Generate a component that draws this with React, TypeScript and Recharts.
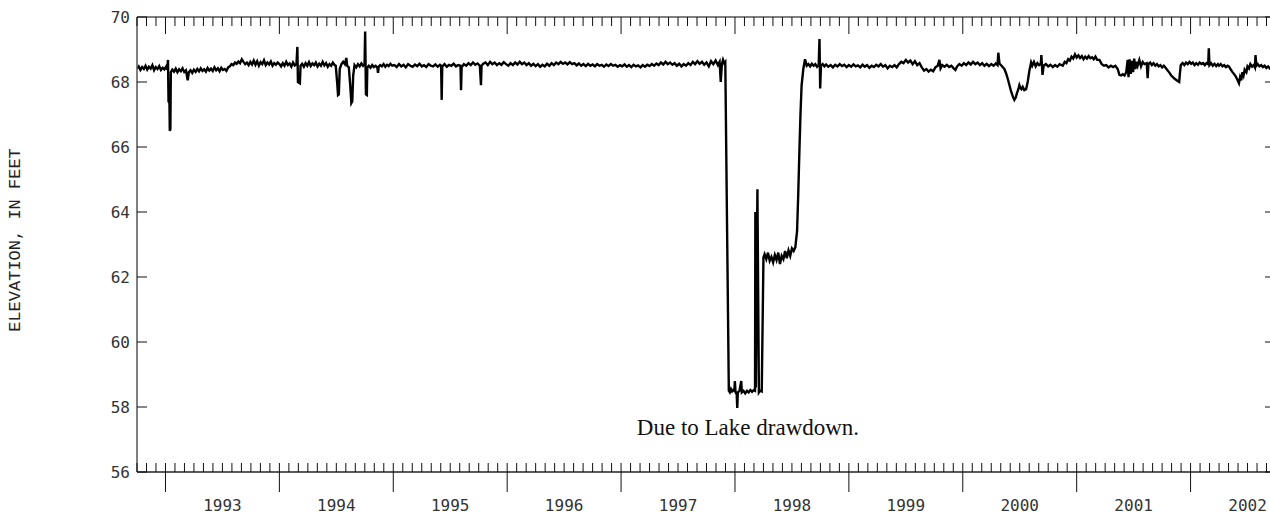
import React from "react";
import { LineChart, Line, XAxis, YAxis } from "recharts";

// Lake elevation, feet, by decimal year (water years 1993-2002)
const WY1993: [number, number][] = [
  [1992.75, 68.42], [1992.765, 68.48], [1992.78, 68.37], [1992.795, 68.46], [1992.81, 68.4],
  [1992.825, 68.5], [1992.84, 68.38], [1992.855, 68.47], [1992.87, 68.41], [1992.885, 68.52],
  [1992.9, 68.36], [1992.915, 68.46], [1992.93, 68.4], [1992.945, 68.49], [1992.96, 68.37],
  [1992.975, 68.44], [1992.99, 68.39], [1993.005, 68.47], [1993.015, 68.38], [1993.022, 68.68],
  [1993.027, 67.4], [1993.035, 67.35], [1993.038, 66.5], [1993.043, 66.55], [1993.047, 68.3],
  [1993.06, 68.38], [1993.075, 68.32], [1993.09, 68.41], [1993.105, 68.3], [1993.12, 68.39],
  [1993.135, 68.33], [1993.15, 68.42], [1993.165, 68.31], [1993.18, 68.36], [1993.195, 68.05],
  [1993.205, 68.3], [1993.22, 68.36], [1993.235, 68.28], [1993.25, 68.38], [1993.265, 68.31],
  [1993.28, 68.4], [1993.295, 68.33], [1993.31, 68.42], [1993.325, 68.34], [1993.34, 68.39],
  [1993.355, 68.32], [1993.37, 68.43], [1993.385, 68.35], [1993.4, 68.41], [1993.415, 68.34],
  [1993.43, 68.45], [1993.445, 68.36], [1993.46, 68.42], [1993.475, 68.33], [1993.49, 68.44],
  [1993.505, 68.37], [1993.52, 68.4], [1993.535, 68.34], [1993.55, 68.45], [1993.565, 68.48],
  [1993.58, 68.55], [1993.595, 68.52], [1993.61, 68.6], [1993.625, 68.56], [1993.64, 68.63],
  [1993.655, 68.58], [1993.67, 68.7], [1993.685, 68.62], [1993.7, 68.55], [1993.715, 68.6],
  [1993.73, 68.52], [1993.745, 68.62], [1993.76, 68.54], [1993.775, 68.66], [1993.79, 68.53],
  [1993.805, 68.64], [1993.82, 68.5], [1993.835, 68.61], [1993.85, 68.55], [1993.865, 68.67],
  [1993.88, 68.52], [1993.895, 68.6], [1993.91, 68.54], [1993.925, 68.63], [1993.94, 68.5],
  [1993.955, 68.58], [1993.97, 68.53], [1993.985, 68.6], [1994.0, 68.55],
];

const WY1994: [number, number][] = [
  [1994.015, 68.48], [1994.03, 68.58], [1994.045, 68.5], [1994.06, 68.62], [1994.075, 68.52],
  [1994.09, 68.57], [1994.105, 68.47], [1994.12, 68.6], [1994.135, 68.51], [1994.15, 68.55],
  [1994.158, 69.08], [1994.163, 68.0], [1994.18, 67.96], [1994.186, 68.5], [1994.2, 68.56],
  [1994.215, 68.47], [1994.23, 68.58], [1994.245, 68.5], [1994.26, 68.61], [1994.275, 68.49],
  [1994.29, 68.57], [1994.305, 68.52], [1994.32, 68.6], [1994.335, 68.48], [1994.35, 68.56],
  [1994.365, 68.5], [1994.38, 68.62], [1994.395, 68.51], [1994.41, 68.58], [1994.425, 68.47],
  [1994.44, 68.55], [1994.455, 68.5], [1994.47, 68.6], [1994.485, 68.52], [1994.495, 68.5],
  [1994.508, 67.95], [1994.515, 67.6], [1994.522, 67.62], [1994.53, 68.4], [1994.545, 68.55],
  [1994.56, 68.62], [1994.575, 68.55], [1994.588, 68.74], [1994.595, 68.5], [1994.61, 68.45],
  [1994.622, 67.9], [1994.632, 67.35], [1994.64, 67.4], [1994.648, 68.2], [1994.66, 68.52],
  [1994.675, 68.45], [1994.69, 68.55], [1994.705, 68.48], [1994.72, 68.57], [1994.735, 68.5],
  [1994.748, 68.55], [1994.753, 69.55], [1994.76, 67.62], [1994.768, 67.6], [1994.772, 68.45],
  [1994.785, 68.5], [1994.8, 68.44], [1994.815, 68.52], [1994.83, 68.46], [1994.845, 68.5],
  [1994.86, 68.45], [1994.866, 68.28], [1994.872, 68.47], [1994.885, 68.52], [1994.9, 68.48],
  [1994.915, 68.55], [1994.93, 68.47], [1994.945, 68.53], [1994.96, 68.49], [1994.975, 68.56],
  [1994.99, 68.5],
];

const WY1995: [number, number][] = [
  [1995.01, 68.52], [1995.03, 68.46], [1995.05, 68.55], [1995.07, 68.48], [1995.09, 68.53],
  [1995.11, 68.45], [1995.13, 68.55], [1995.15, 68.5], [1995.17, 68.47], [1995.19, 68.54],
  [1995.21, 68.49], [1995.23, 68.56], [1995.25, 68.48], [1995.27, 68.52], [1995.29, 68.46],
  [1995.31, 68.55], [1995.33, 68.5], [1995.35, 68.48], [1995.37, 68.54], [1995.39, 68.47],
  [1995.41, 68.53], [1995.42, 68.5], [1995.425, 67.45], [1995.43, 68.48], [1995.45, 68.55],
  [1995.47, 68.47], [1995.49, 68.53], [1995.51, 68.5], [1995.53, 68.56], [1995.55, 68.48],
  [1995.57, 68.52], [1995.59, 68.5], [1995.595, 67.75], [1995.6, 68.45], [1995.62, 68.55],
  [1995.64, 68.5], [1995.66, 68.58], [1995.68, 68.52], [1995.7, 68.6], [1995.72, 68.53],
  [1995.74, 68.57], [1995.76, 68.5], [1995.77, 67.9], [1995.775, 68.5], [1995.79, 68.56],
  [1995.81, 68.6], [1995.83, 68.52], [1995.85, 68.62], [1995.87, 68.55], [1995.89, 68.6],
  [1995.91, 68.52], [1995.93, 68.58], [1995.95, 68.53], [1995.97, 68.61], [1995.99, 68.55],
];

const WY1996: [number, number][] = [
  [1996.01, 68.5], [1996.03, 68.58], [1996.05, 68.52], [1996.07, 68.6], [1996.09, 68.54],
  [1996.11, 68.62], [1996.13, 68.55], [1996.15, 68.6], [1996.17, 68.52], [1996.19, 68.58],
  [1996.21, 68.5], [1996.23, 68.56], [1996.25, 68.49], [1996.27, 68.55], [1996.29, 68.47],
  [1996.31, 68.53], [1996.33, 68.48], [1996.35, 68.56], [1996.37, 68.5], [1996.39, 68.58],
  [1996.41, 68.52], [1996.43, 68.6], [1996.45, 68.55], [1996.47, 68.62], [1996.49, 68.56],
  [1996.51, 68.6], [1996.53, 68.54], [1996.55, 68.61], [1996.57, 68.55], [1996.59, 68.58],
  [1996.61, 68.51], [1996.63, 68.57], [1996.65, 68.5], [1996.67, 68.55], [1996.69, 68.49],
  [1996.71, 68.56], [1996.73, 68.5], [1996.75, 68.54], [1996.77, 68.48], [1996.79, 68.55],
  [1996.81, 68.5], [1996.83, 68.53], [1996.85, 68.47], [1996.87, 68.54], [1996.89, 68.49],
  [1996.91, 68.55], [1996.93, 68.5], [1996.95, 68.53], [1996.97, 68.47], [1996.99, 68.52],
];

const WY1997: [number, number][] = [
  [1997.01, 68.48], [1997.03, 68.54], [1997.05, 68.47], [1997.07, 68.52], [1997.09, 68.46],
  [1997.11, 68.53], [1997.13, 68.48], [1997.15, 68.51], [1997.17, 68.45], [1997.19, 68.52],
  [1997.21, 68.47], [1997.23, 68.53], [1997.25, 68.49], [1997.27, 68.55], [1997.29, 68.5],
  [1997.31, 68.57], [1997.33, 68.52], [1997.35, 68.6], [1997.37, 68.54], [1997.39, 68.62],
  [1997.41, 68.55], [1997.43, 68.6], [1997.45, 68.53], [1997.47, 68.58], [1997.49, 68.5],
  [1997.51, 68.56], [1997.53, 68.48], [1997.55, 68.55], [1997.57, 68.5], [1997.59, 68.58],
  [1997.61, 68.52], [1997.63, 68.62], [1997.65, 68.55], [1997.67, 68.64], [1997.69, 68.56],
  [1997.71, 68.62], [1997.73, 68.53], [1997.75, 68.6], [1997.77, 68.48], [1997.79, 68.64],
  [1997.81, 68.55], [1997.83, 68.66], [1997.85, 68.52], [1997.865, 68.62], [1997.875, 68.0],
  [1997.885, 68.55], [1997.895, 68.68], [1997.905, 68.58], [1997.915, 68.62],
];

// Drawdown and refill
const WY1998: [number, number][] = [
  [1997.946, 58.5], [1997.955, 58.45], [1997.965, 58.55], [1997.975, 58.48], [1997.985, 58.52],
  [1997.995, 58.5], [1997.999, 58.8], [1998.005, 58.45], [1998.015, 58.4], [1998.02, 57.97],
  [1998.025, 58.45], [1998.04, 58.5], [1998.055, 58.8], [1998.06, 58.45], [1998.075, 58.5],
  [1998.09, 58.42], [1998.105, 58.5], [1998.12, 58.45], [1998.135, 58.52], [1998.15, 58.47],
  [1998.165, 58.52], [1998.176, 58.5], [1998.179, 64.0], [1998.183, 58.6], [1998.197, 64.7],
  [1998.21, 58.45], [1998.22, 58.5], [1998.235, 58.48], [1998.25, 62.6], [1998.26, 62.7],
  [1998.275, 62.55], [1998.29, 62.75], [1998.305, 62.5], [1998.32, 62.62], [1998.335, 62.45],
  [1998.35, 62.68], [1998.365, 62.52], [1998.38, 62.75], [1998.395, 62.4], [1998.41, 62.65],
  [1998.425, 62.55], [1998.44, 62.8], [1998.455, 62.58], [1998.47, 62.82], [1998.485, 62.65],
  [1998.5, 62.88], [1998.515, 62.8], [1998.53, 62.92], [1998.545, 63.4], [1998.555, 64.5],
  [1998.565, 65.8], [1998.575, 67.0], [1998.585, 67.9], [1998.6, 68.4], [1998.615, 68.7],
  [1998.63, 68.5], [1998.645, 68.55], [1998.66, 68.48], [1998.675, 68.56], [1998.69, 68.5],
  [1998.705, 68.55], [1998.72, 68.47], [1998.735, 68.53], [1998.742, 69.32], [1998.748, 67.8],
  [1998.755, 68.5], [1998.77, 68.55],
];

const WY1999: [number, number][] = [
  [1998.785, 68.48], [1998.8, 68.54], [1998.82, 68.47], [1998.84, 68.52], [1998.86, 68.45],
  [1998.88, 68.53], [1998.9, 68.48], [1998.92, 68.55], [1998.94, 68.49], [1998.96, 68.53],
  [1998.98, 68.46], [1999.0, 68.52], [1999.02, 68.47], [1999.04, 68.54], [1999.06, 68.48],
  [1999.08, 68.51], [1999.1, 68.45], [1999.12, 68.53], [1999.14, 68.47], [1999.16, 68.52],
  [1999.18, 68.44], [1999.2, 68.5], [1999.22, 68.46], [1999.24, 68.53], [1999.26, 68.48],
  [1999.28, 68.55], [1999.3, 68.47], [1999.32, 68.52], [1999.34, 68.42], [1999.36, 68.5],
  [1999.38, 68.46], [1999.4, 68.52], [1999.42, 68.45], [1999.44, 68.55], [1999.46, 68.62],
  [1999.48, 68.58], [1999.5, 68.68], [1999.52, 68.6], [1999.54, 68.66], [1999.56, 68.55],
  [1999.58, 68.64], [1999.6, 68.52], [1999.62, 68.58], [1999.64, 68.45], [1999.66, 68.35],
  [1999.68, 68.4], [1999.7, 68.32], [1999.72, 68.38], [1999.74, 68.33], [1999.76, 68.45],
  [1999.78, 68.5], [1999.795, 68.68], [1999.805, 68.42], [1999.82, 68.52], [1999.84, 68.47],
  [1999.86, 68.53], [1999.88, 68.46], [1999.9, 68.5], [1999.92, 68.42], [1999.935, 68.37],
  [1999.95, 68.48], [1999.97, 68.55], [1999.99, 68.5],
];

const WY2000: [number, number][] = [
  [2000.01, 68.58], [2000.03, 68.52], [2000.05, 68.6], [2000.07, 68.54], [2000.09, 68.62],
  [2000.11, 68.55], [2000.13, 68.6], [2000.15, 68.52], [2000.17, 68.58], [2000.19, 68.5],
  [2000.21, 68.56], [2000.23, 68.49], [2000.25, 68.55], [2000.27, 68.5], [2000.29, 68.57],
  [2000.305, 68.52], [2000.312, 68.9], [2000.322, 68.57], [2000.34, 68.5], [2000.365, 68.4],
  [2000.38, 68.27], [2000.395, 68.1], [2000.41, 67.9], [2000.425, 67.7], [2000.44, 67.55],
  [2000.453, 67.45], [2000.465, 67.52], [2000.475, 67.65], [2000.49, 67.8], [2000.497, 67.9],
  [2000.505, 67.82], [2000.515, 67.78], [2000.526, 67.85], [2000.54, 67.75], [2000.556, 67.78],
  [2000.57, 68.0], [2000.585, 68.35], [2000.6, 68.6], [2000.61, 68.5], [2000.625, 68.62],
  [2000.64, 68.48], [2000.655, 68.58], [2000.67, 68.52], [2000.685, 68.56], [2000.69, 68.83],
  [2000.7, 68.22], [2000.71, 68.5], [2000.73, 68.55], [2000.75, 68.48], [2000.77, 68.53],
  [2000.79, 68.46], [2000.81, 68.52], [2000.83, 68.47], [2000.85, 68.55], [2000.878, 68.5],
  [2000.895, 68.62], [2000.91, 68.58], [2000.925, 68.7], [2000.94, 68.66], [2000.955, 68.78],
  [2000.97, 68.72], [2000.985, 68.85],
];

const WY2001: [number, number][] = [
  [2001.0, 68.75], [2001.015, 68.82], [2001.03, 68.74], [2001.045, 68.8], [2001.06, 68.7],
  [2001.075, 68.78], [2001.09, 68.72], [2001.105, 68.8], [2001.12, 68.73], [2001.135, 68.76],
  [2001.15, 68.7], [2001.165, 68.78], [2001.18, 68.68], [2001.2, 68.68], [2001.22, 68.55],
  [2001.24, 68.5], [2001.26, 68.52], [2001.28, 68.45], [2001.3, 68.5], [2001.32, 68.46],
  [2001.34, 68.5], [2001.36, 68.4], [2001.375, 68.22], [2001.39, 68.2], [2001.405, 68.24],
  [2001.42, 68.2], [2001.435, 68.3], [2001.448, 68.68], [2001.455, 68.15], [2001.465, 68.7],
  [2001.475, 68.25], [2001.485, 68.65], [2001.495, 68.3], [2001.505, 68.72], [2001.515, 68.4],
  [2001.525, 68.62], [2001.535, 68.5], [2001.55, 68.68], [2001.565, 68.48], [2001.58, 68.62],
  [2001.595, 68.55], [2001.615, 68.58], [2001.623, 68.12], [2001.63, 68.55], [2001.645, 68.6],
  [2001.66, 68.52], [2001.675, 68.58], [2001.69, 68.5], [2001.705, 68.55], [2001.72, 68.48],
  [2001.735, 68.52], [2001.75, 68.45], [2001.765, 68.5], [2001.784, 68.42], [2001.8, 68.35],
  [2001.815, 68.28], [2001.83, 68.2], [2001.845, 68.15], [2001.86, 68.1], [2001.875, 68.06],
  [2001.89, 68.02], [2001.9, 68.0], [2001.906, 68.25], [2001.914, 68.52], [2001.93, 68.58],
  [2001.945, 68.52], [2001.96, 68.6], [2001.975, 68.55], [2001.99, 68.62],
];

const WY2002: [number, number][] = [
  [2002.005, 68.56], [2002.02, 68.6], [2002.035, 68.52], [2002.05, 68.58], [2002.065, 68.53],
  [2002.08, 68.6], [2002.095, 68.55], [2002.11, 68.58], [2002.125, 68.52], [2002.14, 68.58],
  [2002.155, 68.55], [2002.16, 69.04], [2002.166, 68.52], [2002.18, 68.58], [2002.195, 68.5],
  [2002.21, 68.56], [2002.225, 68.49], [2002.24, 68.55], [2002.25, 68.5], [2002.265, 68.55],
  [2002.28, 68.48], [2002.295, 68.52], [2002.31, 68.46], [2002.325, 68.5], [2002.338, 68.47],
  [2002.35, 68.4], [2002.365, 68.32], [2002.38, 68.25], [2002.395, 68.18], [2002.41, 68.08],
  [2002.425, 67.96], [2002.435, 68.15], [2002.445, 68.05], [2002.455, 68.3], [2002.465, 68.2],
  [2002.475, 68.38], [2002.49, 68.3], [2002.5, 68.48], [2002.513, 68.42], [2002.525, 68.55],
  [2002.54, 68.47], [2002.555, 68.52], [2002.565, 68.45], [2002.57, 68.83], [2002.578, 68.5],
  [2002.59, 68.55], [2002.605, 68.48], [2002.62, 68.52], [2002.635, 68.46], [2002.65, 68.5],
  [2002.665, 68.43], [2002.68, 68.48], [2002.695, 68.42], [2002.71, 68.46], [2002.73, 68.4],
  [2002.75, 68.44],
];

const Y_TICKS = [56, 58, 60, 62, 64, 66, 68, 70];
const X_DOMAIN: [number, number] = [1992.75, 2002.75];
// month boundaries from Oct 1992 through Oct 2002
const MONTH_TICKS = Array.from({ length: 121 }, (_, i) => X_DOMAIN[0] + i / 12);

const data = [
  ...WY1993, ...WY1994, ...WY1995, ...WY1996, ...WY1997,
  ...WY1998, ...WY1999, ...WY2000, ...WY2001, ...WY2002,
].map(([t, v]) => ({ t, v }));

const MONO = "'DejaVu Sans Mono', monospace";
const INK = "#111";

const monthOf = (index: number) => (index + 9) % 12;
const yearOf = (index: number) => 1992 + Math.floor((index + 9) / 12);

function BottomTick({ x, y, index }: any) {
  const m = monthOf(index);
  return (
    <g>
      <line x1={x} x2={x} y1={y} y2={y - 9} stroke={INK} strokeWidth={1} />
      {m === 0 && <line x1={x} x2={x} y1={y} y2={y + 20} stroke={INK} strokeWidth={1} />}
      {m === 6 && (
        <text x={x} y={y + 39} textAnchor="middle" fontFamily={MONO} fontSize={16} fill="#333">
          {yearOf(index)}
        </text>
      )}
    </g>
  );
}

function TopTick({ x, y, index }: any) {
  const len = monthOf(index) === 0 ? 17 : 9;
  return <line x1={x} x2={x} y1={y} y2={y + len} stroke={INK} strokeWidth={1} />;
}

function LeftTick({ x, y, payload }: any) {
  return (
    <g>
      <line x1={x} x2={x + 10} y1={y} y2={y} stroke={INK} strokeWidth={1} />
      <text x={x - 7} y={y} dy="0.35em" textAnchor="end" fontFamily={MONO} fontSize={16} fill="#333">
        {payload.value}
      </text>
    </g>
  );
}

function RightTick({ x, y }: any) {
  return <line x1={x} x2={x - 11} y1={y} y2={y} stroke={INK} strokeWidth={1} />;
}

export default function App() {
  return (
    <div
      style={{
        position: "fixed",
        left: 0,
        top: 0,
        width: 1270,
        height: 514,
        overflow: "hidden",
        background: "#fff",
      }}
    >
      <LineChart
        width={1290}
        height={514}
        data={data}
        margin={{ top: 16, right: 13, bottom: 0, left: 0 }}
      >
        <XAxis
          xAxisId="b"
          dataKey="t"
          type="number"
          domain={X_DOMAIN}
          allowDataOverflow
          ticks={MONTH_TICKS}
          interval={0}
          height={42}
          tickSize={0}
          tickMargin={0}
          tickLine={false}
          axisLine={{ stroke: "#222", strokeWidth: 1.5 }}
          tick={<BottomTick />}
        />
        <XAxis
          xAxisId="t"
          orientation="top"
          dataKey="t"
          type="number"
          domain={X_DOMAIN}
          allowDataOverflow
          ticks={MONTH_TICKS}
          interval={0}
          height={1}
          tickSize={0}
          tickMargin={0}
          tickLine={false}
          axisLine={{ stroke: "#555", strokeWidth: 1.5 }}
          tick={<TopTick />}
        />
        <YAxis
          yAxisId="l"
          type="number"
          domain={[56, 70]}
          allowDataOverflow
          ticks={Y_TICKS}
          interval={0}
          width={137}
          tickSize={0}
          tickMargin={0}
          tickLine={false}
          axisLine={{ stroke: "#555", strokeWidth: 1.5 }}
          tick={<LeftTick />}
        />
        <YAxis
          yAxisId="r"
          orientation="right"
          type="number"
          domain={[56, 70]}
          allowDataOverflow
          ticks={Y_TICKS}
          interval={0}
          width={1}
          tickSize={0}
          tickMargin={0}
          tickLine={false}
          axisLine={{ stroke: "#555", strokeWidth: 1.5 }}
          tick={<RightTick />}
        />
        <Line
          xAxisId="b"
          yAxisId="l"
          type="linear"
          dataKey="v"
          stroke="#000"
          strokeWidth={2.4}
          dot={false}
          isAnimationActive={false}
        />
        <text
          x={15}
          y={240}
          transform="rotate(-90, 15, 240)"
          textAnchor="middle"
          dominantBaseline="central"
          fontFamily="'Liberation Mono', 'Courier New', monospace"
          fontSize={17}
          fill="#222"
        >
          ELEVATION, IN FEET
        </text>
        <text
          x={748}
          y={435}
          textAnchor="middle"
          fontFamily="'Liberation Serif', 'Times New Roman', serif"
          fontSize={23}
          fill={INK}
        >
          Due to Lake drawdown.
        </text>
      </LineChart>
    </div>
  );
}
